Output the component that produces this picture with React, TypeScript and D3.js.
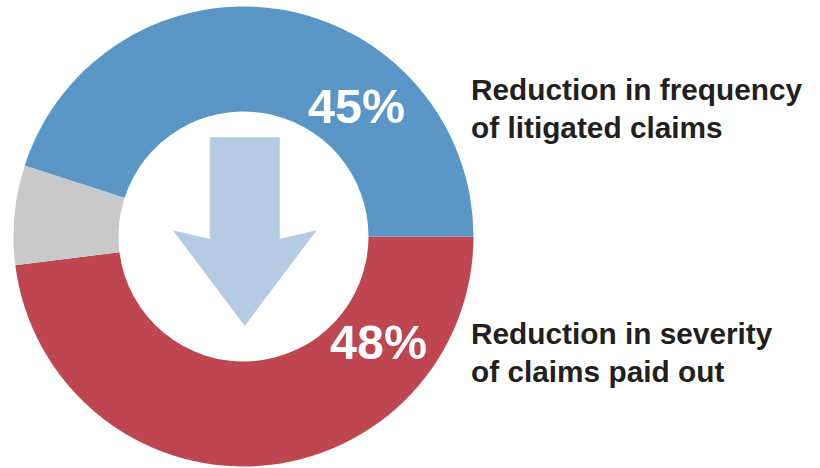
import * as d3 from 'd3';
import { useEffect, useRef } from 'react';

// slice order runs clockwise from 3 o'clock
const categories = ['Severity', 'Other', 'Frequency'];
const values = [48, 7, 45];
const colors = ['#BD4650', '#C8C9CB', '#5B97C6'];
const pctLabels = ['48%', '', '45%'];
const captions = [
  ['Reduction in frequency', 'of litigated claims'],
  ['Reduction in severity', 'of claims paid out'],
];

export default function App() {
  const ref = useRef<SVGSVGElement>(null);

  useEffect(() => {
    const w = 820;
    const h = 468;
    const cx = 243.5;
    const cy = 236.5;
    const outer = 230;
    const inner = 125;

    const svg = d3.select(ref.current);
    svg.selectAll('*').remove();

    const g = svg.append('g').attr('transform', `translate(${cx},${cy})`);

    const pie = d3.pie<number>()
      .sort(null)
      .startAngle(Math.PI / 2)
      .endAngle(Math.PI / 2 + 2 * Math.PI);
    const arcs = pie(values);
    const arc = d3.arc<d3.PieArcDatum<number>>()
      .innerRadius(inner)
      .outerRadius(outer);

    g.selectAll('path.slice')
      .data(arcs)
      .enter()
      .append('path')
      .attr('class', 'slice')
      .attr('d', arc)
      .attr('fill', (d, i) => colors[i])
      .attr('data-name', (d, i) => categories[i]);

    // down arrow in the hole, sized from the inner radius
    const r = inner;
    const arrow = [
      [-0.27, -0.795], [0.29, -0.795], [0.29, 0.02], [0.585, -0.05],
      [0.01, 0.715], [-0.565, -0.05], [-0.27, 0.02],
    ].map(([x, y]) => [x * r, y * r] as [number, number]);
    g.append('path')
      .attr('d', d3.line()(arrow) + 'Z')
      .attr('fill', '#B5CAE3');

    // percent labels
    const labelPos: Record<string, [number, number]> = {
      '45%': [308 - cx, 122.5 - cy],
      '48%': [330 - cx, 359 - cy],
    };
    arcs.forEach((d, i) => {
      const t = pctLabels[i];
      if (!t) return;
      g.append('text')
        .attr('x', labelPos[t][0])
        .attr('y', labelPos[t][1])
        .attr('fill', '#ffffff')
        .attr('font-family', 'Liberation Sans, Arial, sans-serif')
        .attr('font-weight', 'bold')
        .attr('font-size', 48.5)
        .text(t);
    });

    // captions on the right
    const capY = [99.5, 343.5];
    captions.forEach((lines, k) => {
      lines.forEach((line, j) => {
        svg.append('text')
          .attr('x', 471)
          .attr('y', capY[k] + j * 38.5)
          .attr('fill', '#231F20')
          .attr('font-family', 'Liberation Sans, Arial, sans-serif')
          .attr('font-weight', 'bold')
          .attr('font-size', 29.8)
          .text(line);
      });
    });

    svg.attr('width', w).attr('height', h);
  }, []);

  return (
    <svg
      ref={ref}
      width={820}
      height={468}
      style={{ position: 'absolute', left: 0, top: 0, background: '#fff' }}
    />
  );
}
